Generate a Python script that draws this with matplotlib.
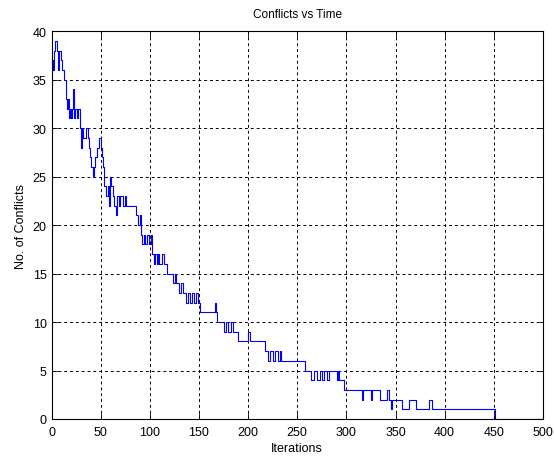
import matplotlib
matplotlib.use("Agg")
import matplotlib.pyplot as plt

# iteration at which the number of conflicts changes, and the new value
change_iter = [0, 1, 2, 3, 4, 6, 7, 8, 10, 11, 13, 15, 16, 17, 18, 19, 20, 21, 22, 23,
               24, 26, 27, 29, 30, 31, 32, 35, 37, 38, 39, 40, 42, 43, 44, 46, 48, 50, 51, 52,
               53, 55, 57, 58, 59, 60, 61, 63, 64, 66, 67, 69, 70, 73, 75, 76, 86, 88, 90, 91,
               92, 94, 95, 97, 99, 101, 102, 104, 105, 107, 108, 109, 112, 114, 118, 124, 126, 127, 130, 132,
               134, 137, 139, 141, 143, 145, 147, 149, 151, 166, 167, 168, 176, 178, 180, 183, 185, 190, 200, 202,
               217, 220, 222, 225, 227, 230, 232, 234, 258, 264, 267, 270, 273, 275, 277, 280, 282, 290, 292, 293,
               298, 316, 317, 325, 326, 334, 341, 343, 345, 346, 357, 364, 371, 384, 387, 451, 500]
conflicts = [36, 37, 36, 38, 39, 38, 36, 38, 37, 36, 35, 33, 32, 33, 31, 32, 31, 32, 34, 31,
             32, 31, 32, 30, 28, 30, 29, 30, 29, 28, 27, 26, 25, 26, 27, 28, 29, 28, 27, 26,
             24, 23, 24, 22, 24, 25, 24, 23, 22, 21, 23, 22, 23, 22, 23, 22, 21, 20, 21, 19,
             18, 19, 18, 19, 18, 19, 17, 16, 17, 16, 17, 16, 17, 16, 15, 14, 15, 14, 13, 14,
             13, 12, 13, 12, 13, 12, 13, 12, 11, 12, 11, 10, 9, 10, 9, 10, 9, 8, 9, 8,
             7, 6, 7, 6, 7, 6, 7, 6, 5, 4, 5, 4, 5, 4, 5, 4, 5, 4, 5, 4,
             3, 2, 3, 2, 3, 2, 3, 2, 1, 2, 1, 2, 1, 2, 1, 0, 0]

x_ticks = [0, 50, 100, 150, 200, 250, 300, 350, 400, 450, 500]
y_ticks = [0, 5, 10, 15, 20, 25, 30, 35, 40]

plt.rcParams['font.family'] = ['Liberation Sans', 'DejaVu Sans']

fig = plt.figure(figsize=(5.54, 4.6), dpi=100)
ax = fig.add_axes([0.093, 0.087, 0.887, 0.843])

ax.plot(change_iter, conflicts, color=(0, 0, 1), linewidth=0.8, drawstyle='steps-post')

ax.set_xlim(0, 500)
ax.set_ylim(0, 40)
ax.set_xticks(x_ticks)
ax.set_yticks(y_ticks)
ax.tick_params(direction='in', top=True, right=True, length=4, labelsize=9, width=0.6)
ax.tick_params(axis='x', pad=5)
ax.grid(True, color='black', linestyle=(0, (3, 3)), linewidth=0.7)
for s in ax.spines.values():
    s.set_linewidth(0.8)

ax.set_title("Conflicts vs Time", fontsize=8.5, pad=10)
ax.set_xlabel("Iterations", fontsize=9, labelpad=3)
ax.set_ylabel("No. of Conflicts", fontsize=9, labelpad=4)

fig.savefig("out.png", dpi=100)
